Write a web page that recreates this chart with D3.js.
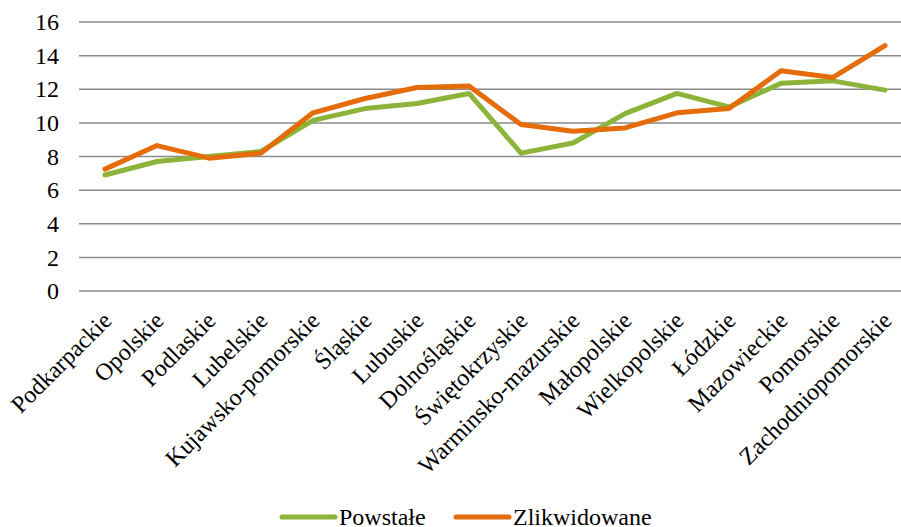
<!DOCTYPE html>
<html>
<head>
<meta charset="utf-8">
<script src="https://cdn.jsdelivr.net/npm/d3@7"></script>
<style>
  body { margin: 0; background: #fff; }
  svg { display: block; }
  text { font-family: 'Liberation Serif'; fill: #000; }
</style>
</head>
<body>
<div id="chart"></div>
<script>
var regions = ['Podkarpackie', 'Opolskie', 'Podlaskie', 'Lubelskie', 'Kujawsko-pomorskie', 'Śląskie',
    'Lubuskie', 'Dolnośląskie', 'Świętokrzyskie', 'Warminsko-mazurskie', 'Małopolskie', 'Wielkopolskie',
    'Łódzkie', 'Mazowieckie', 'Pomorskie', 'Zachodniopomorskie'];
var powstale = [6.9, 7.7, 8.0, 8.3, 10.15, 10.85, 11.15, 11.75, 8.2, 8.8, 10.55, 11.75, 10.95, 12.35, 12.5, 11.95];
var zlikwidowane = [7.25, 8.65, 7.9, 8.2, 10.6, 11.45, 12.1, 12.2, 9.9, 9.5, 9.7, 10.6, 10.85, 13.1, 12.7, 14.6];
var yTicks = [0, 2, 4, 6, 8, 10, 12, 14, 16];
var seriesNames = ['Powstałe', 'Zlikwidowane'];

var width = 901, height = 527;
var greenColor = '#8cb43a';
var orangeColor = '#e46c0a';

var svg = d3.select('#chart').append('svg')
    .attr('width', width)
    .attr('height', height);

var x = d3.scaleBand()
    .domain(regions)
    .range([79, 911]);

var y = d3.scaleLinear()
    .domain([0, 16])
    .range([291, 22]);

// gridlines
svg.append('g')
    .selectAll('line')
    .data(yTicks)
    .enter()
    .append('line')
    .attr('x1', 79)
    .attr('x2', width)
    .attr('y1', function (d) { return y(d) })
    .attr('y2', function (d) { return y(d) })
    .style('stroke', '#8a8a8a')
    .style('stroke-width', '1.5px')

// y axis labels
var yAxis = d3.axisLeft(y).tickValues(yTicks).tickSize(0).tickPadding(0)
svg.append('g')
    .attr('transform', 'translate(59,0)')
    .call(yAxis)
    .call(function (g) { g.select('.domain').remove() })
    .selectAll('text')
    .style('font-family', "'Liberation Serif'")
    .style('font-size', '24px')
    .style('fill', '#000')

// x axis labels, rotated
var xAxis = d3.axisBottom(x).tickSize(0).tickPadding(0)
svg.append('g')
    .attr('transform', 'translate(0,291)')
    .call(xAxis)
    .call(function (g) { g.select('.domain').remove() })
    .selectAll('text')
    .style('font-family', "'Liberation Serif'")
    .style('font-size', '24px')
    .style('fill', '#000')
    .attr('text-anchor', 'end')
    .attr('dy', 0)
    .attr('y', 0)
    .attr('transform', 'translate(8,31) rotate(-45)')

var line = d3.line()
    .x(function (d, i) { return x(regions[i]) + x.bandwidth() / 2 })
    .y(function (d) { return y(d) })

svg.append('path')
    .datum(powstale)
    .attr('d', line)
    .style('fill', 'none')
    .style('stroke', greenColor)
    .style('stroke-width', '5px')
    .style('stroke-linejoin', 'round')
    .style('stroke-linecap', 'round')

svg.append('path')
    .datum(zlikwidowane)
    .attr('d', line)
    .style('fill', 'none')
    .style('stroke', orangeColor)
    .style('stroke-width', '5px')
    .style('stroke-linejoin', 'round')
    .style('stroke-linecap', 'round')

// legend
var legendX = [282, 456];
var legendColors = [greenColor, orangeColor];
var legend = svg.append('g')
    .selectAll('g')
    .data(seriesNames)
    .enter()
    .append('g')
    .attr('transform', function (d, i) { return 'translate(' + legendX[i] + ',517)' })

legend.append('line')
    .attr('x1', 0)
    .attr('x2', 53)
    .style('stroke', function (d, i) { return legendColors[i] })
    .style('stroke-width', '5px')
    .style('stroke-linecap', 'round')

legend.append('text')
    .attr('x', 57)
    .attr('y', 8)
    .style('font-size', '24px')
    .text(function (d) { return d })
</script>
</body>
</html>
